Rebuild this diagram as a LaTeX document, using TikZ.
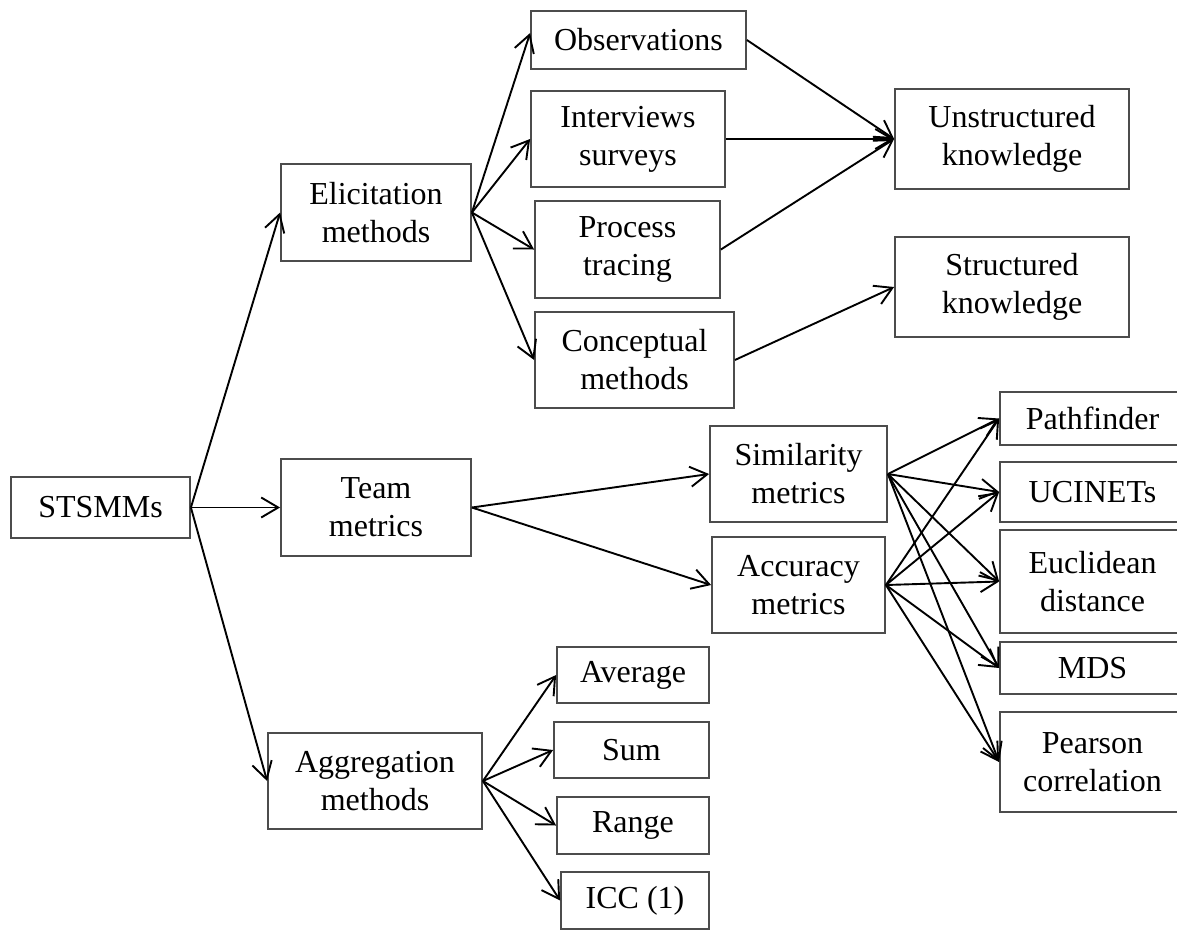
\documentclass[tikz,border=0pt]{standalone}
\usepackage{fontspec}
\setmainfont{Liberation Serif}
\usetikzlibrary{arrows.meta}
\begin{document}
\begin{tikzpicture}[x=1pt,y=-1pt,
  box/.style={draw=black!70, line width=1.8pt, rectangle, inner sep=0pt, align=center,
    font=\fontsize{32}{38}\selectfont},
  arr/.style={line width=1.9pt, -{Straight Barb[length=17pt,width=20pt,line width=1.9pt]}}]
\useasboundingbox (0,0) rectangle (1177,932);
% level 0
\node[box, minimum width=179pt, minimum height=61pt] (st) at (100.5,507.5) {STSMMs};
% level 1
\node[box, minimum width=190pt, minimum height=97pt] (el) at (376,212.5) {Elicitation\\methods};
\node[box, minimum width=190pt, minimum height=97pt] (tm) at (376,507.5) {Team\\metrics};
\node[box, minimum width=214pt, minimum height=96pt] (ag) at (375,781) {Aggregation\\methods};
% elicitation children
\node[box, minimum width=215pt, minimum height=58pt] (ob) at (638.5,40) {Observations};
\node[box, minimum width=194pt, minimum height=96pt] (iv) at (628,139) {Interviews\\surveys};
\node[box, minimum width=185pt, minimum height=97pt] (pt) at (627.5,249.5) {Process\\tracing};
\node[box, minimum width=199pt, minimum height=96pt] (cm) at (634.5,360) {Conceptual\\methods};
\node[box, minimum width=234pt, minimum height=100pt] (uk) at (1012,139) {Unstructured\\knowledge};
\node[box, minimum width=234pt, minimum height=100pt] (sk) at (1012,287) {Structured\\knowledge};
% team metrics children
\node[box, minimum width=177pt, minimum height=96pt] (sm) at (798.5,474) {Similarity\\metrics};
\node[box, minimum width=173pt, minimum height=96pt] (am) at (798.5,585) {Accuracy\\metrics};
\node[box, minimum width=185pt, minimum height=53pt] (pf) at (1092.5,418.5) {Pathfinder};
\node[box, minimum width=185pt, minimum height=60pt] (uc) at (1092.5,492) {UCINETs};
\node[box, minimum width=185pt, minimum height=103pt] (eu) at (1092.5,581.5) {Euclidean\\distance};
\node[box, minimum width=185pt, minimum height=52pt] (md) at (1092.5,668) {MDS};
\node[box, minimum width=185pt, minimum height=100pt] (pc) at (1092.5,762) {Pearson\\correlation};
% aggregation children
\node[box, minimum width=152pt, minimum height=56pt] (av) at (633,675) {Average};
\node[box, minimum width=155pt, minimum height=56pt] (su) at (631.5,750) {Sum};
\node[box, minimum width=152pt, minimum height=57pt] (ra) at (633,825.5) {Range};
\node[box, minimum width=148pt, minimum height=57pt] (ic) at (635,900.5) {ICC (1)};
% connectors
\draw[arr] (st.east) -- (el.west);
\draw[arr] (st.east) -- (tm.west);
\draw[arr] (st.east) -- (ag.west);
\draw[arr] (el.east) -- ([yshift=7pt]ob.west);
\draw[arr] (el.east) -- (iv.west);
\draw[arr] (el.east) -- (pt.west);
\draw[arr] (el.east) -- (cm.west);
\draw[arr] (ob.east) -- (uk.west);
\draw[arr] (iv.east) -- (uk.west);
\draw[arr] (pt.east) -- (uk.west);
\draw[arr] (cm.east) -- (sk.west);
\draw[arr] (tm.east) -- (sm.west);
\draw[arr] (tm.east) -- (am.west);
\foreach \t in {pf,uc,eu,md,pc}{
  \draw[arr] (sm.east) -- (\t.west);
  \draw[arr] (am.east) -- (\t.west);
}
\draw[arr] (ag.east) -- (av.west);
\draw[arr] (ag.east) -- (su.west);
\draw[arr] (ag.east) -- (ra.west);
\draw[arr] (ag.east) -- (ic.west);
\end{tikzpicture}
\end{document}
